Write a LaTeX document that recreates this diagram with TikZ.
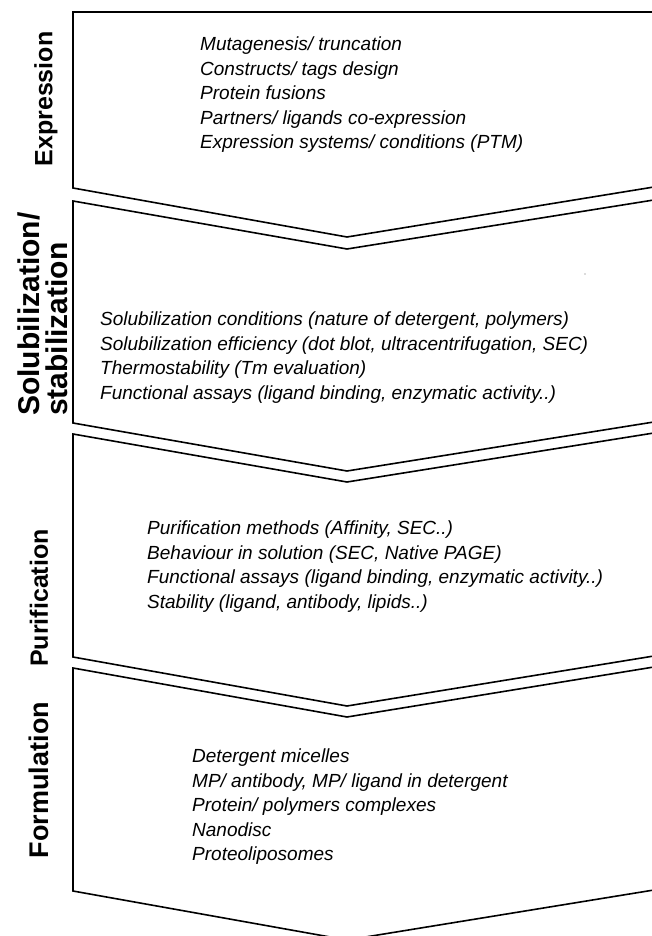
\documentclass[tikz,border=0pt]{standalone}
\usepackage{fontspec}
\setmainfont{Liberation Sans}
\begin{document}
\begin{tikzpicture}[x=1pt,y=-1pt,
  band/.style={draw=black,line width=1.6pt,line join=miter},
  items/.style={anchor=north west,align=left,font=\fontsize{19}{24.5}\selectfont\itshape,inner sep=0pt},
  stage/.style={rotate=90,align=left,inner sep=0pt}]
\useasboundingbox (0,0) rectangle (652,936);
% Expression box
\draw[band] (660,12) -- (73,12) -- (73,188) -- (347,237) -- (660,186);
% Solubilization box
\draw[band] (660,199) -- (347,249) -- (73,201) -- (73,423) -- (347,471) -- (660,421);
% Purification box
\draw[band] (660,432) -- (347,482) -- (73,434) -- (73,657) -- (347,706) -- (660,655);
% Formulation box
\draw[band] (660,666) -- (347,717) -- (73,668) -- (73,891) -- (347,940) -- (660,889);

\node[stage,font=\fontsize{25}{28}\selectfont\bfseries] (lexp) at (46,99) {Expression};
\node[stage,anchor=west,font=\fontsize{30}{28}\selectfont\bfseries] (lsol) at (43,416) {Solubilization/\\stabilization};
\node[stage,font=\fontsize{25}{28}\selectfont\bfseries] (lpur) at (39,598) {Purification};
\node[stage,font=\fontsize{27}{28}\selectfont\bfseries] (lfor) at (39,780) {Formulation};

\node[items] (texp) at (200,37) {Mutagenesis/ truncation\\Constructs/ tags design\\Protein fusions\\Partners/ ligands co-expression\\Expression systems/ conditions (PTM)};
\node[items] (tsol) at (100,312) {Solubilization conditions (nature of detergent, polymers)\\Solubilization efficiency (dot blot, ultracentrifugation, SEC)\\Thermostability (Tm evaluation)\\Functional assays (ligand binding, enzymatic activity..)};
\node[items] (tpur) at (147,521) {Purification methods (Affinity, SEC..)\\Behaviour in solution (SEC, Native PAGE)\\Functional assays (ligand binding, enzymatic activity..)\\Stability (ligand, antibody, lipids..)};
\node[items] (tfor) at (192,749) {Detergent micelles\\MP/ antibody, MP/ ligand in detergent\\Protein/ polymers complexes\\Nanodisc\\Proteoliposomes};
\fill[black!60] (585,274) circle (0.7);
\end{tikzpicture}
\end{document}
